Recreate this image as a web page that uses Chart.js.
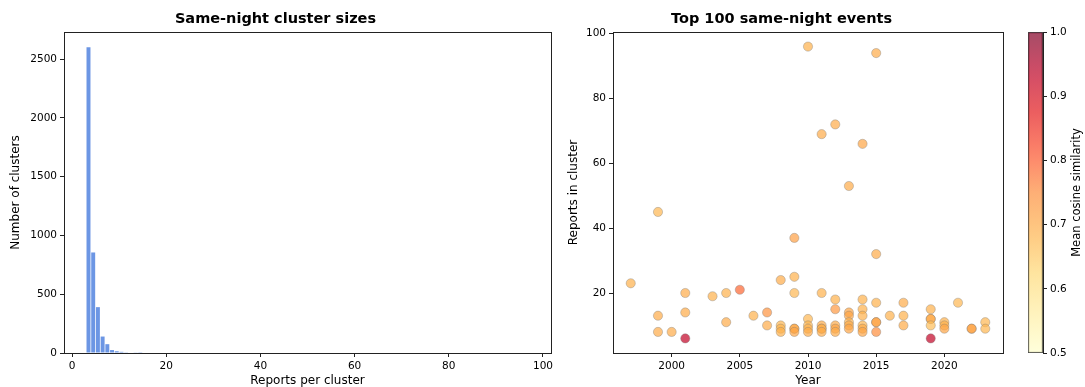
<!DOCTYPE html>
<html><head><meta charset="utf-8">
<script src="https://cdn.jsdelivr.net/npm/chart.js@4.4.1/dist/chart.umd.min.js"></script>
<style>
html,body{margin:0;padding:0;background:#fff;width:1085px;height:387px;overflow:hidden}
canvas{position:absolute;top:0}
</style></head><body>
<canvas id="hist" width="560" height="387" style="left:0"></canvas>
<canvas id="scat" width="455" height="387" style="left:560px"></canvas>
<canvas id="cbar" width="70" height="387" style="left:1015px"></canvas>
<script>
// ---------- DATA ----------
const histTitle = 'Same-night cluster sizes';
const binStarts = [3,4,5,6,7,8,9,10,11,12,13,14];
const binCounts = [2600,855,390,140,75,25,15,10,6,4,3,2];
const histXTicks = [0,20,40,60,80,100];
const histYTicks = [0,500,1000,1500,2000,2500];

const scatTitle = 'Top 100 same-night events';
const eventYears = [1997,1999,1999,1999,2000,2001,2001,2001,2003,2004,2004,2005,2006,2007,2007,2008,2008,2008,2008,
  2009,2009,2009,2009,2009,2009,2010,2010,2010,2010,2010,2011,2011,2011,2011,2011,2011,2012,2012,2012,2012,2012,2012,
  2013,2013,2013,2013,2013,2013,2014,2014,2014,2014,2014,2014,2014,2015,2015,2015,2015,2015,2015,2016,2017,2017,2017,
  2019,2019,2019,2019,2019,2020,2020,2020,2021,2022,2022,2023,2023];
const eventSizes = [23,45,13,8,8,20,14,6,19,20,11,21,13,14,10,24,10,9,8,
  37,25,20,9,9,8,96,12,10,9,8,69,20,10,9,9,8,72,18,15,10,9,8,
  53,14,13,11,10,9,66,18,15,13,10,9,8,94,32,17,11,11,8,13,17,13,10,
  15,12,12,10,6,11,10,9,17,9,9,11,9];
const eventSims = [0.69,0.68,0.70,0.70,0.70,0.70,0.70,0.93,0.69,0.69,0.70,0.79,0.69,0.74,0.70,0.70,0.68,0.68,0.69,
  0.72,0.69,0.68,0.71,0.70,0.71,0.69,0.68,0.68,0.69,0.70,0.70,0.69,0.70,0.71,0.69,0.70,0.70,0.69,0.73,0.70,0.71,0.70,
  0.70,0.71,0.71,0.69,0.70,0.71,0.71,0.69,0.69,0.69,0.68,0.70,0.71,0.70,0.70,0.69,0.72,0.71,0.75,0.69,0.70,0.69,0.70,
  0.69,0.71,0.70,0.67,0.93,0.69,0.69,0.71,0.68,0.72,0.71,0.68,0.68];
const scatXTicks = [2000,2005,2010,2015,2020];
const scatYTicks = [20,40,60,80,100];
const cbarTicks = [0.5,0.6,0.7,0.8,0.9,1.0];
const cbarLabel = 'Mean cosine similarity';

// ---------- STYLE ----------
Chart.defaults.font.family = 'DejaVu Sans';
Chart.defaults.color = '#000';
const YLORRD = [[255,255,204],[255,237,160],[254,217,118],[254,178,76],[253,141,60],[252,78,42],[227,26,28],[189,0,38],[128,0,38]];
function cmap(t, a){
  t = Math.max(0, Math.min(1, t));
  const p = t*(YLORRD.length-1), i = Math.min(Math.floor(p), YLORRD.length-2), f = p-i;
  const c = YLORRD[i].map((v,k)=>Math.round(v+(YLORRD[i+1][k]-v)*f));
  return `rgba(${c[0]},${c[1]},${c[2]},${a})`;
}
const frame = {id:'frame', afterDraw(chart){
  const {ctx, chartArea:a} = chart; ctx.save(); ctx.strokeStyle='#222'; ctx.lineWidth=1;
  ctx.strokeRect(Math.round(a.left)+0.5, Math.round(a.top)+0.5, Math.round(a.right-a.left), Math.round(a.bottom-a.top));
  ctx.restore();
}};
function axisBase(list, extra){
  return Object.assign({
    grid:{drawOnChartArea:false, drawTicks:true, tickLength:4, color:'#222', offset:false},
    border:{color:'#222'},
    ticks:{font:{size:10.5}, padding:3, maxRotation:0, autoSkip:false, callback:v=>String(v)},
    afterBuildTicks: scale => { scale.ticks = list.map(v=>({value:v})); }
  }, extra);
}
const common = {responsive:false, animation:false, devicePixelRatio:1,
  plugins:{legend:{display:false}, tooltip:{enabled:false}}};
const titleFont = {size:14.5, weight:'bold'};

// ---------- HISTOGRAM ----------
new Chart(document.getElementById('hist'), {
  type:'bar',
  data:{datasets:[{data: binStarts.map((b,i)=>({x:b+0.5, y:binCounts[i]})),
    backgroundColor:'rgb(108,150,228)', borderWidth:0, barPercentage:0.84, categoryPercentage:1}]},
  options:Object.assign({}, common, {
    layout:{padding:{left:0,right:9,top:0,bottom:0}},
    plugins:{legend:{display:false}, tooltip:{enabled:false},
      title:{display:true, text:histTitle, font:titleFont, color:'#000', padding:{top:11,bottom:3.6}}},
    scales:{
      x: axisBase(histXTicks, {type:'linear', min:-1.7, max:101.7, offset:false,
        title:{display:true, text:'Reports per cluster', font:{size:12}, padding:{top:2,bottom:-1.5}},
        afterFit: s=>{s.height=34;}}),
      y: axisBase(histYTicks, {type:'linear', min:0, max:2730,
        title:{display:true, text:'Number of clusters', font:{size:12}, padding:{top:9,bottom:9}},
        afterFit: s=>{s.width=64;}})
    }
  }),
  plugins:[frame]
});

// ---------- SCATTER ----------
new Chart(document.getElementById('scat'), {
  type:'scatter',
  data:{datasets:[{data: eventYears.map((y,i)=>({x:y, y:eventSizes[i]})),
    pointRadius:4.6, pointBackgroundColor: eventSims.map(s=>cmap((s-0.5)/0.5, 0.7)),
    pointBorderColor:'rgba(120,120,120,0.6)', pointBorderWidth:0.6}]},
  options:Object.assign({}, common, {
    layout:{padding:{left:0,right:12,top:0,bottom:0}},
    plugins:{legend:{display:false}, tooltip:{enabled:false},
      title:{display:true, text:scatTitle, font:titleFont, color:'#000', padding:{top:11,bottom:3.6}}},
    scales:{
      x: axisBase(scatXTicks, {type:'linear', min:1995.7, max:2024.3,
        title:{display:true, text:'Year', font:{size:12}, padding:{top:2,bottom:-1.5}},
        afterFit: s=>{s.height=34;}}),
      y: axisBase(scatYTicks, {type:'linear', min:1.5, max:100.5,
        title:{display:true, text:'Reports in cluster', font:{size:12}, padding:{top:7,bottom:7}},
        afterFit: s=>{s.width=53;}})
    }
  }),
  plugins:[frame]
});

// ---------- COLORBAR ----------
const cbLabelPlugin = {id:'cblabel', afterDraw(chart){
  const {ctx, chartArea:a} = chart; ctx.save();
  ctx.translate(62.5, (a.top+a.bottom)/2); ctx.rotate(-Math.PI/2);
  ctx.font = '11.5px "DejaVu Sans"'; ctx.fillStyle='#000'; ctx.textAlign='center'; ctx.textBaseline='middle';
  ctx.fillText(cbarLabel, 0, 0); ctx.restore();
}};
new Chart(document.getElementById('cbar'), {
  type:'bar',
  data:{labels:[''], datasets:[{data:[[cbarTicks[0], cbarTicks[cbarTicks.length-1]]],
    backgroundColor: c => {
      const a = c.chart.chartArea; if (!a) return 'rgba(0,0,0,0)';
      const g = c.chart.ctx.createLinearGradient(0, a.bottom, 0, a.top);
      for (let k=0;k<=20;k++){ g.addColorStop(k/20, cmap(k/20, 0.7)); }
      return g;
    },
    borderColor:'#444', borderWidth:1, borderSkipped:false, barPercentage:1, categoryPercentage:1}]},
  options:Object.assign({}, common, {
    layout:{padding:{left:13,right:0,top:32,bottom:34}},
    scales:{
      x:{display:false},
      y: axisBase(cbarTicks, {type:'linear', position:'right', min:0.5, max:1.0,
        ticks:{font:{size:10.5}, padding:3, autoSkip:false, callback:v=>Number(v).toFixed(1)},
        afterFit: s=>{s.width=42;}})
    }
  }),
  plugins:[cbLabelPlugin]
});
</script>
</body></html>
